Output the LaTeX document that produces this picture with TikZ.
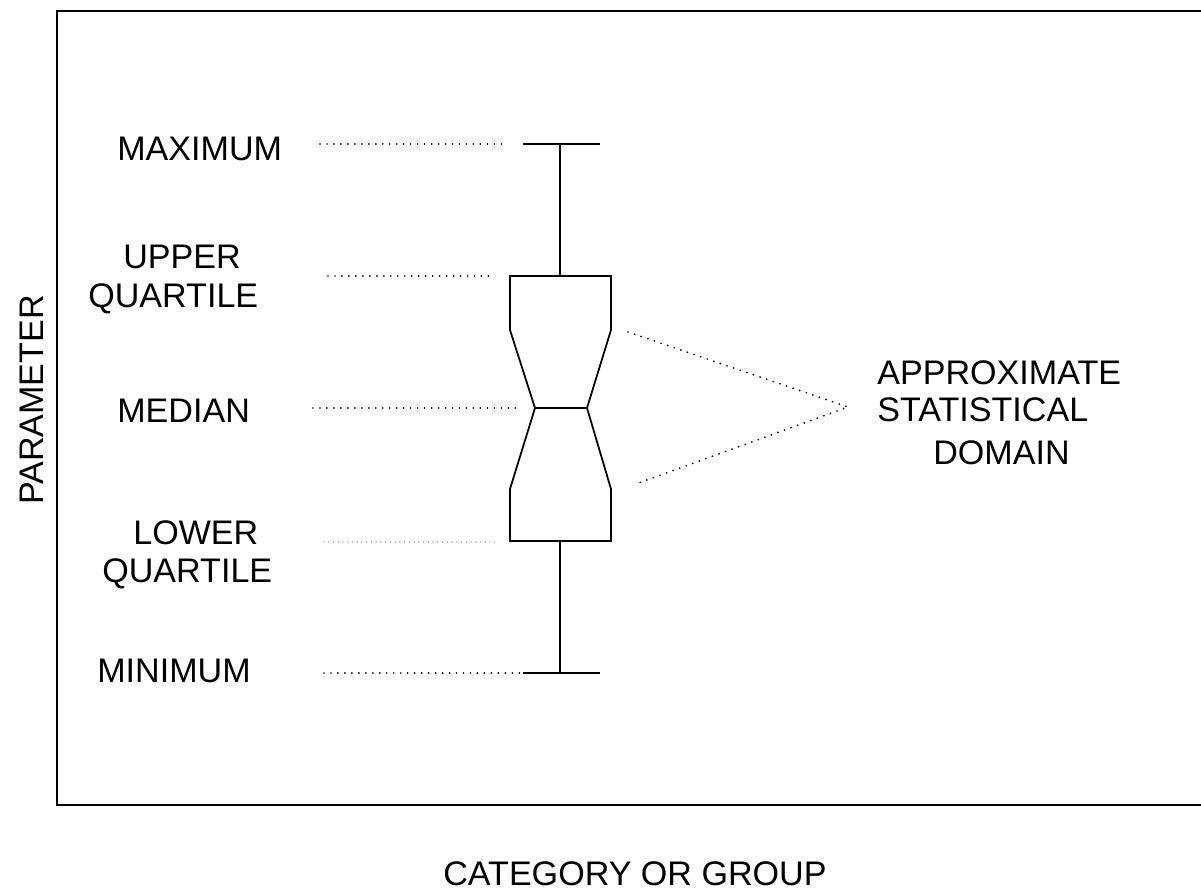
\documentclass[tikz,border=0pt]{standalone}
\usepackage{fontspec}
\setmainfont{Liberation Sans}
\usetikzlibrary{positioning}

\begin{document}
\begin{tikzpicture}[
    x=0.02cm, y=-0.02cm,
    label text/.style={font=\fontsize{19.4}{23}\selectfont, inner sep=0pt, anchor=base west},
    leader/.style={line width=1.1pt, line cap=round, dash pattern=on 0pt off 3.97pt},
    faint leader/.style={leader, gray, line width=0.8pt, dash pattern=on 0pt off 2.7pt},
    outline/.style={line width=1pt, line join=miter}
]
    \useasboundingbox (0,0) rectangle (1201,891);

    % Frame (open on the right)
    \draw[line width=1.3pt] (1215,11) -- (57,11) -- (57,805) -- (1215,805);

    % Notched box
    \coordinate (upL) at (510,276);
    \coordinate (upR) at (611,276);
    \coordinate (nuR) at (611,330);
    \coordinate (medR) at (587,408);
    \coordinate (nlR) at (611,489);
    \coordinate (loR) at (611,541);
    \coordinate (loL) at (510,541);
    \coordinate (nlL) at (510,489);
    \coordinate (medL) at (535,408);
    \coordinate (nuL) at (510,330);
    \draw[outline] (upL) -- (upR) -- (nuR) -- (medR) -- (nlR) -- (loR)
        -- (loL) -- (nlL) -- (medL) -- (nuL) -- cycle;
    \draw[outline] (medL) -- (medR);

    % Whiskers
    \coordinate (maxW) at (560,144);
    \coordinate (upW) at (560,276);
    \coordinate (loW) at (560,541);
    \coordinate (minW) at (560,673);
    \draw[outline] (upW) -- (maxW);
    \draw[outline] (loW) -- (minW);
    \draw[outline] ([xshift=-21]maxW) -- ([xshift=23]maxW);
    \draw[outline] ([xshift=-21]minW) -- ([xshift=23]minW);

    % Leaders
    \coordinate (maxA) at (320,144);
    \coordinate (maxB) at (508,144);
    \coordinate (uqA) at (328,276);
    \coordinate (uqB) at (493,276);
    \coordinate (medA) at (313,408);
    \coordinate (medB) at (522,408);
    \coordinate (lqA) at (324,542);
    \coordinate (lqB) at (498,542);
    \coordinate (minA) at (324,673);
    \coordinate (minB) at (525,673);
    \foreach \a/\b in {maxA/maxB, uqA/uqB, medA/medB, minA/minB} {
        \draw[leader] (\a) -- (\b);
    }
    \draw[faint leader] (lqA) -- (lqB);

    % Statistical domain
    \coordinate (domU) at (628,332);
    \coordinate (domL) at (636,484);
    \coordinate (domTip) at (848,407);
    \draw[leader] (domU) -- (domTip) -- (domL);

    % Labels
    \node[label text] (maxlab) at (117,161) {MAXIMUM};
    \node[label text] (uqlab1) at (123,269) {UPPER};
    \node[label text] (uqlab2) at (88,308) {QUARTILE};
    \node[label text] (medlab) at (117,423) {MEDIAN};
    \node[label text] (lqlab1) at (133,545) {LOWER};
    \node[label text] (lqlab2) at (102,583) {QUARTILE};
    \node[label text] (minlab) at (97,683) {MINIMUM};
    \node[label text] (domlab1) at (877,385) {APPROXIMATE};
    \node[label text] (domlab2) at (877,422) {STATISTICAL};
    \node[label text] (domlab3) at (933,465) {DOMAIN};

    % Axis titles
    \node[label text, text depth=0pt] (xlab) at (443,886) {CATEGORY OR GROUP};
    \node[label text, anchor=base, rotate=90] (ylab) at (43,400) {PARAMETER};
\end{tikzpicture}
\end{document}
